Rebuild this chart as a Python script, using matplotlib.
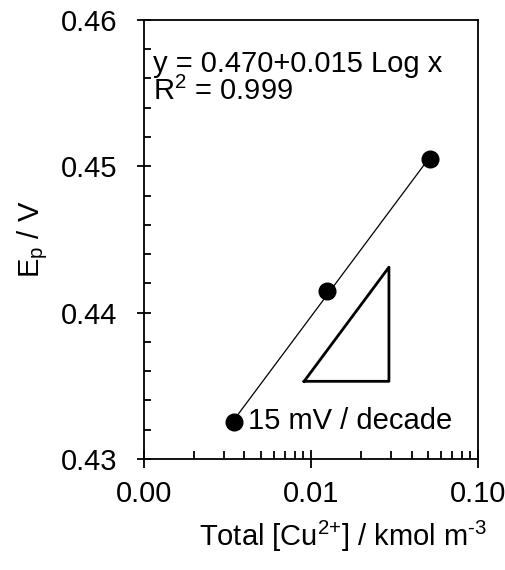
import matplotlib.pyplot as plt
import numpy as np
from matplotlib.ticker import FixedLocator, FuncFormatter, MultipleLocator

plt.rcParams['font.family'] = ['Liberation Sans', 'DejaVu Sans']
plt.rcParams['mathtext.fontset'] = 'custom'
plt.rcParams['mathtext.rm'] = 'Liberation Sans'
plt.rcParams['mathtext.default'] = 'regular'

# data
conc = [0.00346, 0.01247, 0.0517]   # total [Cu2+] / kmol m-3
ep = [0.4325, 0.4415, 0.4505]       # peak potential / V

# slope triangle (15 mV / decade)
tri_x = [0.0091, 0.0293, 0.0293, 0.0091]
tri_y = [0.4353, 0.4353, 0.4431, 0.4353]

xlim = (0.001, 0.1)
ylim = (0.43, 0.46)
fs = 21

fig = plt.figure(figsize=(5.05, 5.7), dpi=100)
ax = fig.add_axes([0.285, 0.195, 0.6615, 0.77])

# fit in log x
p = np.polyfit(np.log10(conc), ep, 1)
xf = np.array([conc[0], conc[-1]])
ax.plot(xf, p[1] + p[0] * np.log10(xf), color='black', lw=0.9)
ax.plot(conc, ep, 'o', color='black', markersize=12, zorder=3)
ax.plot(tri_x, tri_y, color='black', lw=2)

ax.set_xscale('log')
ax.set_xlim(*xlim)
ax.set_ylim(*ylim)

ax.xaxis.set_major_locator(FixedLocator([0.001, 0.01, 0.1]))
ax.xaxis.set_major_formatter(FuncFormatter(lambda v, pos: '%.2f' % v))
ax.yaxis.set_major_locator(MultipleLocator(0.01))
ax.yaxis.set_minor_locator(MultipleLocator(0.002))
ax.yaxis.set_major_formatter(FuncFormatter(lambda v, pos: '%.2f' % v))

ax.tick_params(which='major', direction='inout', length=13, width=1.3,
               labelsize=fs, pad=9, top=False, right=False)
ax.tick_params(axis='y', which='major', length=10, pad=14)
ax.tick_params(which='minor', direction='in', length=5, width=1.3,
               top=False, right=False)
ax.tick_params(axis='x', which='minor', length=5.5)

for s in ax.spines.values():
    s.set_linewidth(1.3)

ax.set_xlabel(r'Total [Cu$^{2{+}}$] / kmol m$^{\text{-3}}$', fontsize=fs)
ax.xaxis.set_label_coords(0.596, -0.137)
ax.set_ylabel('E$_p$ / V', fontsize=fs)
ax.yaxis.set_label_coords(-0.28, 0.5)

ax.text(0.026, 0.9, 'y = 0.470+0.015 Log x', transform=ax.transAxes,
        fontsize=fs, va='center', ha='left')
ax.text(0.026, 0.838, 'R$^2$ = 0.999', transform=ax.transAxes,
        fontsize=fs, va='center', ha='left')
ax.text(0.311, 0.087, '15 mV / decade', transform=ax.transAxes,
        fontsize=fs, va='center', ha='left')

fig.savefig('out.png', dpi=100)
